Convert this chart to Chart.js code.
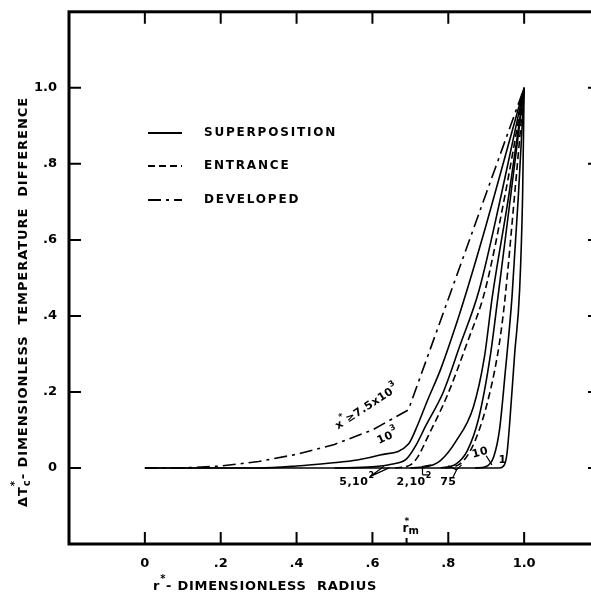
<!DOCTYPE html>
<html>
<head>
<meta charset="utf-8">
<script src="https://cdn.jsdelivr.net/npm/chart.js@4.4.0/dist/chart.umd.min.js"></script>
<style>
  html, body { margin: 0; padding: 0; background: #fff; overflow: hidden; }
  canvas { display: block; }
</style>
</head>
<body>
<canvas id="chart" width="600" height="594"></canvas>
<script>
// axis ticks
const xTicks = [0, 0.2, 0.4, 0.6, 0.8, 1.0];
const yTicks = [0, 0.2, 0.4, 0.6, 0.8, 1.0];
const rmStar = 0.69;

// developed flow (dash-dot), x* >= 7.5x10^3
const devR = [0, 0.1, 0.2, 0.3, 0.4, 0.5, 0.6, 0.695, 1.0];
const devT = [0, 0, 0.005, 0.017, 0.036, 0.062, 0.1, 0.153, 1.0];

// superposition curves (solid)
const s1000R = [0, 0.3, 0.4, 0.49, 0.56, 0.62, 0.695, 0.72, 0.744, 0.78, 0.815, 0.849, 0.9, 0.95, 1.0];
const s1000T = [0, 0, 0.005, 0.013, 0.021, 0.034, 0.063, 0.115, 0.175, 0.26, 0.36, 0.467, 0.64, 0.82, 1.0];
const s500R = [0.5, 0.6, 0.65, 0.69, 0.715, 0.74, 0.787, 0.83, 0.881, 0.94, 1.0];
const s500T = [0, 0.003, 0.01, 0.024, 0.06, 0.11, 0.2, 0.32, 0.467, 0.72, 1.0];
const s200R = [0.7, 0.75, 0.78, 0.82, 0.866, 0.895, 0.916, 0.96, 1.0];
const s200T = [0, 0.005, 0.02, 0.07, 0.16, 0.29, 0.45, 0.72, 1.0];
const s75R = [0.78, 0.82, 0.85, 0.88, 0.91, 0.931, 0.965, 1.0];
const s75T = [0, 0.01, 0.045, 0.13, 0.29, 0.45, 0.72, 1.0];
const s10R = [0.87, 0.9, 0.92, 0.935, 0.95, 0.968, 0.985, 1.0];
const s10T = [0, 0.004, 0.03, 0.1, 0.25, 0.45, 0.72, 1.0];
const s1R = [0, 0.935, 0.948, 0.955, 0.962, 0.975, 0.988, 0.996, 1.0];
const s1T = [0, 0, 0.008, 0.04, 0.12, 0.3, 0.467, 0.72, 1.0];

// entrance curves (dashed)
const e200R = [0.66, 0.7, 0.72, 0.745, 0.797, 0.85, 0.897, 0.95, 1.0];
const e200T = [0, 0.008, 0.03, 0.08, 0.19, 0.33, 0.467, 0.72, 1.0];
const e75R = [0.79, 0.83, 0.87, 0.91, 0.935, 0.95, 0.975, 1.0];
const e75T = [0, 0.01, 0.07, 0.2, 0.33, 0.45, 0.72, 1.0];

const legendNames = ['SUPERPOSITION', 'ENTRANCE', 'DEVELOPED'];

const FONT = 'DejaVu Sans';
const dashDot = [13, 5, 3, 5];
const dashed = [7, 4];

function pts(rs, ts) {
    return rs.map((r, i) => ({ x: r, y: ts[i] }));
}

function line(rs, ts, dash, smooth) {
    return {
        data: pts(rs, ts),
        borderColor: '#000',
        borderWidth: 1.6,
        borderDash: dash,
        pointRadius: 0,
        fill: false,
        tension: 0,
        cubicInterpolationMode: smooth ? 'monotone' : 'default'
    };
}

function fmt(v) {
    if (Math.abs(v) < 1e-9) return '0';
    if (Math.abs(v - 1) < 1e-9) return '1.0';
    return v.toFixed(1).replace('0.', '.');
}

// text runs made of pieces [{t, size, dy}], drawn from 0,0 in the current transform
function richWidth(ctx, pieces, spacing) {
    let w = 0;
    pieces.forEach(p => {
        ctx.font = 'bold ' + p.size + 'px ' + FONT;
        ctx.letterSpacing = spacing + 'px';
        w += ctx.measureText(p.t).width;
    });
    return w;
}
function drawRich(ctx, pieces, spacing) {
    let x = 0;
    pieces.forEach(p => {
        ctx.font = 'bold ' + p.size + 'px ' + FONT;
        ctx.letterSpacing = spacing + 'px';
        ctx.fillText(p.t, x, p.dy || 0);
        x += ctx.measureText(p.t).width;
    });
}
function fitSpacing(ctx, pieces, target) {
    const w0 = richWidth(ctx, pieces, 0);
    const n = pieces.reduce((a, p) => a + p.t.length, 0);
    return Math.max(0, (target - w0) / n);
}

const decor = {
    id: 'decor',
    afterDraw(chart) {
        const ctx = chart.ctx;
        const a = chart.chartArea;
        const xs = chart.scales.x, ys = chart.scales.y;
        const X = v => xs.getPixelForValue(v), Y = v => ys.getPixelForValue(v);
        ctx.save();
        ctx.strokeStyle = '#000';
        ctx.fillStyle = '#000';

        // frame
        ctx.lineWidth = 3;
        ctx.strokeRect(a.left, a.top, a.right - a.left, a.bottom - a.top);

        // inward ticks on all four sides
        ctx.lineWidth = 2;
        ctx.beginPath();
        xTicks.forEach(v => {
            ctx.moveTo(X(v), a.bottom); ctx.lineTo(X(v), a.bottom - 12);
            ctx.moveTo(X(v), a.top); ctx.lineTo(X(v), a.top + 12);
        });
        yTicks.forEach(v => {
            ctx.moveTo(a.left, Y(v)); ctx.lineTo(a.left + 12, Y(v));
            ctx.moveTo(a.right, Y(v)); ctx.lineTo(a.right - 12, Y(v));
        });
        const rmX = X(rmStar);
        ctx.moveTo(rmX, a.bottom); ctx.lineTo(rmX, a.bottom - 6);
        ctx.stroke();

        // r*m marker label
        ctx.textBaseline = 'alphabetic';
        ctx.textAlign = 'left';
        ctx.save();
        ctx.translate(rmX - 4, a.bottom - 12);
        drawRich(ctx, [{ t: 'r', size: 12 }, { t: 'm', size: 10, dy: 2 }], 0);
        ctx.font = 'bold 9px ' + FONT;
        ctx.fillText('*', 2, -8);
        ctx.restore();

        // legend
        const legY = [133, 166, 200];
        const legDash = [[], dashed, dashDot];
        ctx.lineWidth = 1.8;
        legY.forEach((y, i) => {
            ctx.setLineDash(legDash[i]);
            ctx.beginPath();
            ctx.moveTo(148, y); ctx.lineTo(182, y);
            ctx.stroke();
        });
        ctx.setLineDash([]);
        ctx.textBaseline = 'middle';
        legY.forEach((y, i) => {
            ctx.save();
            ctx.translate(204, y);
            drawRich(ctx, [{ t: legendNames[i], size: 12 }], 1.8);
            ctx.restore();
        });

        // curve labels
        const lab = (pieces, r, t, ang) => {
            ctx.save();
            ctx.translate(X(r), Y(t));
            ctx.rotate(ang * Math.PI / 180);
            const w = richWidth(ctx, pieces, 0.5);
            ctx.translate(-w / 2, 0);
            drawRich(ctx, pieces, 0.5);
            ctx.restore();
        };
        lab([{ t: 'x', size: 11 }, { t: '*', size: 8, dy: -6 }, { t: '≥7.5x10', size: 11 }, { t: '3', size: 8, dy: -6 }], 0.586, 0.16, -33);
        lab([{ t: '10', size: 11 }, { t: '3', size: 8, dy: -6 }], 0.641, 0.082, -25);
        lab([{ t: '5,10', size: 11 }, { t: '2', size: 8, dy: -6 }], 0.559, -0.037, 0);
        lab([{ t: '2,10', size: 11 }, { t: '2', size: 8, dy: -6 }], 0.71, -0.037, 0);
        lab([{ t: '75', size: 11 }], 0.80, -0.037, 0);
        lab([{ t: '10', size: 11 }], 0.884, 0.04, -15);
        lab([{ t: '1', size: 11 }], 0.943, 0.02, 0);

        // small leaders from labels to their curves
        ctx.lineWidth = 1.2;
        ctx.beginPath();
        ctx.moveTo(X(0.595), Y(-0.022)); ctx.lineTo(X(0.645), Y(0.001));
        ctx.moveTo(X(0.595), Y(-0.022)); ctx.lineTo(X(0.63), Y(0.004));
        ctx.moveTo(X(0.732), Y(-0.018)); ctx.lineTo(X(0.732), Y(0.004)); ctx.lineTo(X(0.755), Y(0.008));
        ctx.moveTo(X(0.732), Y(-0.018)); ctx.lineTo(X(0.75), Y(-0.018));
        ctx.moveTo(X(0.812), Y(-0.025)); ctx.lineTo(X(0.822), Y(-0.005)); ctx.lineTo(X(0.8), Y(0.006));
        ctx.moveTo(X(0.822), Y(-0.005)); ctx.lineTo(X(0.835), Y(0.008));
        ctx.moveTo(X(0.9), Y(0.032)); ctx.lineTo(X(0.915), Y(0.008));
        ctx.stroke();

        // x axis title
        ctx.textBaseline = 'alphabetic';
        const xt = [{ t: 'r', size: 13 }, { t: '*', size: 10, dy: -8 }, { t: '- DIMENSIONLESS  RADIUS', size: 13 }];
        ctx.save();
        ctx.translate(153, 590);
        drawRich(ctx, xt, fitSpacing(ctx, xt, 224));
        ctx.restore();

        // y axis title
        const yt = [{ t: 'ΔT', size: 13 }, { t: 'c', size: 10, dy: 3 }, { t: '- DIMENSIONLESS  TEMPERATURE  DIFFERENCE', size: 13 }];
        const ysp = fitSpacing(ctx, yt, 410);
        ctx.save();
        ctx.translate(27, 507);
        ctx.rotate(-Math.PI / 2);
        drawRich(ctx, yt, ysp);
        const tw = richWidth(ctx, [{ t: 'ΔT', size: 13 }], ysp);
        ctx.font = 'bold 10px ' + FONT;
        ctx.letterSpacing = '0px';
        ctx.fillText('*', tw, -9);
        ctx.restore();

        ctx.restore();
    }
};

new Chart(document.getElementById('chart'), {
    type: 'line',
    data: {
        datasets: [
            line(devR, devT, dashDot, false),
            line(s1000R, s1000T, [], true),
            line(s500R, s500T, [], true),
            line(s200R, s200T, [], true),
            line(s75R, s75T, [], true),
            line(s10R, s10T, [], true),
            line(s1R, s1T, [], true),
            line(e200R, e200T, dashed, true),
            line(e75R, e75T, dashed, true)
        ]
    },
    options: {
        responsive: false,
        animation: false,
        layout: { padding: { top: 11, left: 0, right: 0, bottom: 0 } },
        plugins: { legend: { display: false }, tooltip: { enabled: false } },
        scales: {
            x: {
                type: 'linear',
                min: -0.2,
                max: 1.2,
                grid: { display: false },
                border: { display: false },
                afterBuildTicks: s => { s.ticks = xTicks.map(v => ({ value: v })); },
                afterFit: s => { s.height = 50; },
                ticks: {
                    callback: fmt,
                    color: '#000',
                    padding: 4,
                    maxRotation: 0,
                    font: { family: FONT, size: 13, weight: 'bold' }
                }
            },
            y: {
                type: 'linear',
                min: -0.2,
                max: 1.2,
                grid: { display: false },
                border: { display: false },
                afterBuildTicks: s => { s.ticks = yTicks.map(v => ({ value: v })); },
                afterFit: s => { s.width = 69; },
                ticks: {
                    callback: fmt,
                    color: '#000',
                    padding: 4,
                    font: { family: FONT, size: 13, weight: 'bold' }
                }
            }
        }
    },
    plugins: [decor]
});
</script>
</body>
</html>
